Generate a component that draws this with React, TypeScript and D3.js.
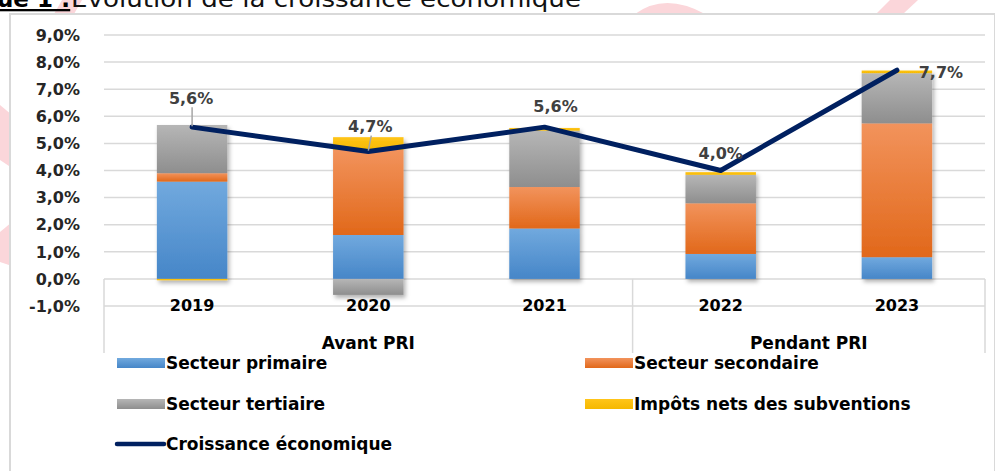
import React from "react";
import * as d3 from "d3";

const years = ["2019", "2020", "2021", "2022", "2023"];
const periods = ["Avant PRI", "Pendant PRI"];
const periodSpans = [[0, 2], [3, 4]];
const primaire = [3.59, 1.62, 1.86, 0.92, 0.8];
const secondaire = [0.31, 3.14, 1.53, 1.87, 4.94];
const tertiaire = [1.78, -0.59, 2.08, 1.05, 1.85];
const impots = [-0.05, 0.47, 0.1, 0.1, 0.1];
const croissance = [5.6, 4.7, 5.6, 4.0, 7.7];
const yTicks = [-1, 0, 1, 2, 3, 4, 5, 6, 7, 8, 9];
const seriesNames = ["Secteur primaire", "Secteur secondaire", "Secteur tertiaire", "Impôts nets des subventions"];
const lineName = "Croissance économique";

const W = 995;
const H = 471;
const FONT = "'DejaVu Sans', Verdana, sans-serif";

const gradients = [
  ["#71a9de", "#4686c8"],
  ["#f2935c", "#e1681a"],
  ["#b6b6b6", "#8e8e8e"],
  ["#ffc51a", "#f5b800"],
];

// label offsets relative to point (style)
const labelOffsets = [
  [-1, -29],
  [2, -25],
  [11, -21],
  [0, -17],
  [44, 2],
];
const leader = [true, true, false, false, false];

export default function App() {
  const x = d3.scaleBand<string>().domain(years).range([104, 985]).paddingInner(0.6).paddingOuter(0.3);
  const y = d3.scaleLinear().domain([-1, 9]).range([306, 35]);
  const table = years.map((yr, i) => ({
    year: yr,
    s0: primaire[i],
    s1: secondaire[i],
    s2: tertiaire[i],
    s3: impots[i],
  }));
  const stack = d3.stack<any>().keys(["s0", "s1", "s2", "s3"]).offset(d3.stackOffsetDiverging);
  const stacked = stack(table);
  const line = d3
    .line<number>()
    .x((_, i) => (x(years[i]) as number) + x.bandwidth() / 2)
    .y((d) => y(d));
  const fmt = (v: number) => v.toFixed(1).replace(".", ",") + "%";
  const bw = x.bandwidth();
  const cx = (i: number) => (x(years[i]) as number) + bw / 2;

  const plotL = 104;
  const plotR = 985;
  const tableBottom = 353;

  return (
    <svg width={W} height={H} style={{ position: "absolute", left: 0, top: 0, background: "#fff" }} fontFamily={FONT}>
      <defs>
        {gradients.map((g, i) => (
          <linearGradient key={i} id={`g${i}`} x1="0" y1="0" x2="0" y2="1">
            <stop offset="0%" stopColor={g[0]} />
            <stop offset="100%" stopColor={g[1]} />
          </linearGradient>
        ))}
        <filter id="sh" x="-20%" y="-20%" width="150%" height="150%">
          <feDropShadow dx="2" dy="3" stdDeviation="2" floodColor="#000" floodOpacity="0.3" />
        </filter>
      </defs>
      {/* faint watermark outside chart frame */}
      <g fill="#fbd6da">
        <polygon points="0,105 12,115 12,168 0,160" />
        <polygon points="0,232 12,222 12,266 0,262" />
        <polygon points="62,0 82,0 74,14 54,14" />
        <path d="M635,14 Q665,-8 705,14 Z" />
        <polygon points="890,0 918,0 903,14 876,14" />
      </g>
      {/* title (cropped) */}
      <text x={-3} y={7} fontSize={23} fontWeight="bold" fill="#000" textDecoration="underline">
        ue 1 :
      </text>
      <text x={71} y={7} fontSize={23} fill="#111" textLength={510} lengthAdjust="spacingAndGlyphs">
        Évolution de la croissance économique
      </text>
      {/* chart frame */}
      <rect x={10} y={14} width={985} height={470} fill="#fff" stroke="#d9d9d9" strokeWidth={2} />
      {/* gridlines */}
      {yTicks.map((t) => (
        <line key={t} x1={plotL} x2={plotR} y1={y(t)} y2={y(t)} stroke="#d9d9d9" strokeWidth={1.5} />
      ))}
      {/* category table lines */}
      {[plotL, (x(years[3]) as number) - (x.step() - bw) / 2, plotR].map((lx, i) => (
        <line key={i} x1={lx} x2={lx} y1={y(0)} y2={tableBottom} stroke="#d9d9d9" strokeWidth={1.5} />
      ))}
      {/* y tick labels */}
      {yTicks.map((t) => (
        <text key={t} x={80} y={y(t)} dy="0.36em" textAnchor="end" fontSize={16} fontWeight="bold" fill="#262626">
          {fmt(t)}
        </text>
      ))}
      {/* bars */}
      <g filter="url(#sh)">
        {stacked.map((s, si) =>
          s.map((d, i) => {
            const y0 = y(d[0]);
            const y1 = y(d[1]);
            return (
              <rect
                key={`${si}-${i}`}
                x={x(years[i])}
                width={bw}
                y={Math.min(y0, y1)}
                height={Math.abs(y1 - y0)}
                fill={`url(#g${si})`}
              />
            );
          })
        )}
      </g>
      {/* line */}
      <path d={line(croissance) || ""} fill="none" stroke="#002060" strokeWidth={5} strokeLinejoin="round" strokeLinecap="round" />
      {/* data labels */}
      {croissance.map((v, i) => {
        const px = cx(i);
        const py = y(v);
        const lx = px + labelOffsets[i][0];
        const ly = py + labelOffsets[i][1];
        return (
          <g key={i}>
            {leader[i] && <line x1={lx + 1} y1={ly + 9} x2={px} y2={py - 1} stroke="#a6a6a6" strokeWidth={1.5} />}
            <text x={lx} y={ly} dy="0.36em" textAnchor="middle" fontSize={16} fontWeight="bold" fill="#404040">
              {fmt(v)}
            </text>
          </g>
        );
      })}
      {/* category labels */}
      {years.map((yr, i) => (
        <text key={yr} x={cx(i)} y={305} dy="0.36em" textAnchor="middle" fontSize={16} fontWeight="bold" fill="#000">
          {yr}
        </text>
      ))}
      {periods.map((p, i) => {
        const a = (x(years[periodSpans[i][0]]) as number) - (x.step() - bw) / 2;
        const b = (x(years[periodSpans[i][1]]) as number) + bw + (x.step() - bw) / 2;
        return (
          <text key={p} x={(a + b) / 2} y={343} dy="0.36em" textAnchor="middle" fontSize={17} fontWeight="bold" fill="#000">
            {p}
          </text>
        );
      })}
      {/* legend */}
      {seriesNames.map((n, i) => {
        const lx = i % 2 === 0 ? 117 : 585;
        const ly = i < 2 ? 363 : 404;
        return (
          <g key={n}>
            <rect x={lx} y={ly - 5} width={48} height={10} fill={`url(#g${i})`} />
            <text x={lx + 49} y={ly} dy="0.36em" fontSize={17} fontWeight="bold" fill="#000">
              {n}
            </text>
          </g>
        );
      })}
      <g>
        <line x1={117} x2={164} y1={444} y2={444} stroke="#002060" strokeWidth={4.5} strokeLinecap="round" />
        <text x={166} y={444} dy="0.36em" fontSize={17} fontWeight="bold" fill="#000">
          {lineName}
        </text>
      </g>
    </svg>
  );
}
